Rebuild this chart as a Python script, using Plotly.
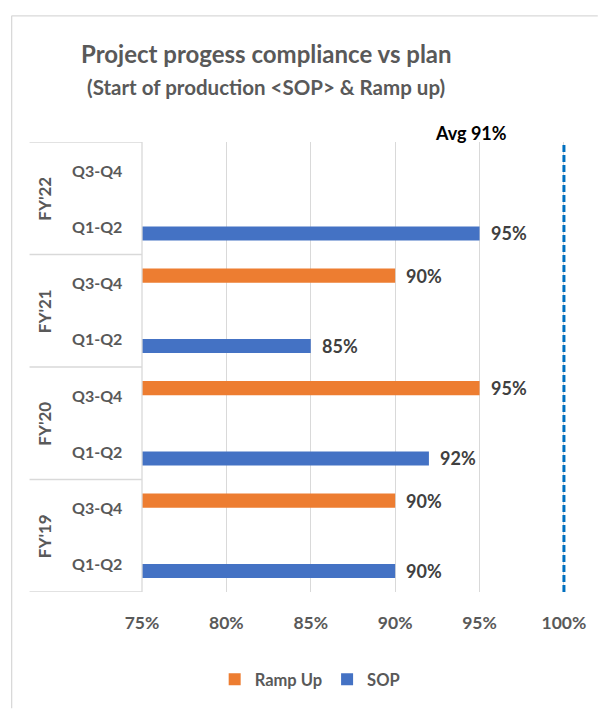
import plotly.graph_objects as go

# ---- data ----
fiscal_years = ["FY'19", "FY'20", "FY'21", "FY'22"]
halves = ["Q1-Q2", "Q3-Q4"]
sop = [0.90, 0.92, 0.85, 0.95]          # Q1-Q2 of each FY
ramp_up = [0.90, 0.95, 0.90, None]       # Q3-Q4 of each FY
x_ticks = [0.75, 0.80, 0.85, 0.90, 0.95, 1.00]
target = 1.00

title = "Project progess compliance vs plan"
subtitle = "(Start of production <SOP> & Ramp up)"

FONT = "Lato"
GRAY = "#595959"
DARK = "#404040"
BLUE = "#4472C4"
ORANGE = "#ED7D31"

# geometry (pixels)
W, H = 598, 709
X_MIN, X_MAX = 0.75, 1.003
ML, MT, MB = 142, 142, 114
PX_PER_UNIT = (566 - 142) / 0.25
PW = (X_MAX - X_MIN) * PX_PER_UNIT
MR = W - ML - PW
PH = H - MT - MB

def px_x(px):
    return (px - ML) / PW

def px_y(py):
    return (H - MB - py) / PH

n_fy = len(fiscal_years)
sop_y = [2 * i for i in range(n_fy)]
ramp_y = [2 * i + 1 for i in range(n_fy)]
BW = 0.25

fig = go.Figure()
fig.add_trace(go.Bar(name="SOP", x=sop, y=sop_y, orientation="h", width=BW, offset=-BW,
                     marker=dict(color=BLUE, line=dict(width=0))))
fig.add_trace(go.Bar(name="Ramp Up", x=ramp_up, y=ramp_y, orientation="h", width=BW, offset=0,
                     marker=dict(color=ORANGE, line=dict(width=0))))

# target dashed line
fig.add_trace(go.Scatter(x=[target, target], y=[-0.5, 2 * n_fy - 0.45], mode="lines",
                         line=dict(color="#0070C0", width=3, dash="7px,3px"),
                         showlegend=False, hoverinfo="skip"))

ann = []
# data labels
for vals, ys, off in ((sop, sop_y, -BW / 2), (ramp_up, ramp_y, BW / 2)):
    for v, y in zip(vals, ys):
        if v is None:
            continue
        ann.append(dict(x=v, y=y + off, xref="x", yref="y", text=f"<b>{v:.0%}</b>",
                        showarrow=False, xanchor="left", xshift=9,
                        font=dict(family=FONT, size=18, color=DARK)))

# quarter labels
for i in range(n_fy):
    for j, hlf in enumerate(halves):
        ann.append(dict(x=px_x(124), y=2 * i + j, xref="paper", yref="y",
                        text=f"<b>{hlf}</b>", showarrow=False, xanchor="right",
                        font=dict(family=FONT, size=16, color=GRAY)))
    ann.append(dict(x=px_x(44), y=2 * i + 0.5, xref="paper", yref="y",
                    text=f"<b>{fiscal_years[i]}</b>", showarrow=False, textangle=-90,
                    xanchor="center", yanchor="middle",
                    font=dict(family=FONT, size=17, color=GRAY)))

vals_all = [v for v in sop + ramp_up if v is not None]
avg = sum(vals_all) / len(vals_all)
ann.append(dict(x=px_x(473), y=px_y(133), xref="paper", yref="paper",
                text=f"<b>Avg {avg:.0%}</b>", showarrow=False,
                xanchor="center", yanchor="middle",
                font=dict(family=FONT, size=18, color="#000000")))
ann.append(dict(x=px_x(267), y=px_y(53), xref="paper", yref="paper",
                text=f"<b>{title}</b>", showarrow=False,
                xanchor="center", yanchor="middle",
                font=dict(family=FONT, size=24, color=GRAY)))
ann.append(dict(x=px_x(267), y=px_y(87), xref="paper", yref="paper",
                text=f"<b>{subtitle.replace('<', '&lt;').replace('>', '&gt;')}</b>",
                showarrow=False, xanchor="center", yanchor="middle",
                font=dict(family=FONT, size=20.5, color=GRAY)))

shapes = []
LINE = "#D9D9D9"
# category box lines
for k in range(n_fy + 1):
    yy = 2 * k - 0.5
    shapes.append(dict(type="line", xref="paper", yref="y", x0=px_x(29), x1=0,
                       y0=yy, y1=yy, line=dict(color=LINE, width=1.3)))
shapes.append(dict(type="line", xref="paper", yref="y", x0=0, x1=0,
                   y0=-0.5, y1=2 * n_fy - 0.5, line=dict(color=LINE, width=1.3)))
# outer chart border
shapes.append(dict(type="line", xref="paper", yref="paper", x0=px_x(11), x1=px_x(600),
                   y0=px_y(15), y1=px_y(15), line=dict(color=LINE, width=1.3)))
shapes.append(dict(type="line", xref="paper", yref="paper", x0=px_x(11), x1=px_x(11),
                   y0=px_y(15), y1=px_y(712), line=dict(color=LINE, width=1.3)))

fig.update_layout(
    width=W, height=H,
    margin=dict(l=ML, r=MR, t=MT, b=MB),
    paper_bgcolor="white", plot_bgcolor="white",
    barmode="overlay",
    annotations=ann, shapes=shapes,
    legend=dict(orientation="h", x=px_x(311), xanchor="center", y=px_y(683),
                yanchor="middle", traceorder="reversed",
                font=dict(family=FONT, size=16.5, color=GRAY, weight="bold"),
                itemwidth=30),
    xaxis=dict(range=[X_MIN, X_MAX], tickvals=x_ticks, tickformat=".0%",
               showgrid=True, gridcolor=LINE, gridwidth=1.3, zeroline=False,
               showline=False, ticks="", ticklabelstandoff=18,
               tickfont=dict(family=FONT, size=17.5, color=GRAY, weight="bold"),
               fixedrange=True),
    yaxis=dict(range=[-0.5, 2 * n_fy - 0.5], showgrid=False, zeroline=False,
               showticklabels=False, showline=False, fixedrange=True),
)

fig.write_html("out.html")
